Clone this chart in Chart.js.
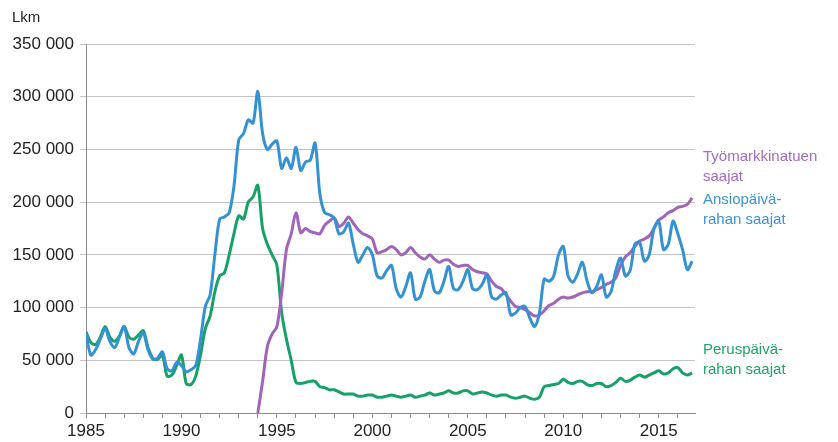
<!DOCTYPE html>
<html>
<head>
<meta charset="utf-8">
<style>
  html, body { margin: 0; padding: 0; background: #fff; }
</style>
<script src="https://cdn.jsdelivr.net/npm/chart.js@4.4.0/dist/chart.umd.min.js"></script>
</head>
<body>
<canvas id="myChart" width="838" height="442"></canvas>
<script>
// quarterly readings (thousands), one row per year 1985..2016
var ansio = [
  76, 55, 60, 70,   80, 68, 62, 72,   82, 62, 56, 68,   76, 60, 51, 52,
  58, 42, 40, 48,   45, 39, 41, 45,   70, 101, 112, 150, 184, 186, 190, 215,
  259, 265, 278, 275, 305, 265, 250, 255, 258, 232, 242, 232, 252, 230, 238, 240,
  256, 208, 190, 188, 185, 170, 172, 180, 160, 143, 150, 157, 150, 130, 128, 135,
  140, 118, 110, 120, 133, 108, 110, 125, 136, 116, 114, 125, 139, 118, 117, 125,
  136, 118, 117, 122, 131, 110, 108, 112, 114, 93, 95, 100, 101, 90, 82, 95,
  127, 125, 130, 150, 158, 130, 124, 132, 143, 125, 114, 120, 131, 110, 115, 135,
  147, 130, 135, 160, 162, 144, 150, 175, 182, 155, 160, 182, 170, 155, 136, 144
];
var perus = [
  77, 67, 65, 72,   82, 72, 68, 73,   82, 72, 70, 74,   78, 62, 52, 51,
  55, 35, 36, 45,   55, 28, 27, 35,   55, 80, 92, 115,  130, 133, 150, 170,
  187, 184, 200, 205, 216, 175, 160, 150, 140, 95, 70, 50, 29, 28, 29, 30,
  30, 25, 24, 22,   22, 20, 18, 18,   18, 16, 16, 17,   17, 15, 15, 16,
  17, 16, 15, 16,   17, 15, 16, 17,   19, 17, 18, 19,   21, 19, 19, 21,
  21, 18, 19, 20,   19, 17, 16, 17,   17, 15, 14, 15,   16, 14, 13, 15,
  25, 26, 27, 28,   32, 29, 28, 30,   30, 27, 26, 28,   28, 25, 26, 29,
  33, 30, 31, 34,   36, 34, 36, 38,   40, 37, 38, 42,   43, 38, 36, 38
];
// työmarkkinatuki starts in 1994
var tyomStartYear = 1994;
var tyom = [
  0, 30, 63, 75,     82, 114, 155, 170, 190, 171, 175, 172, 171, 170, 178, 182,
  185, 177, 180, 186, 180, 174, 170, 168, 165, 152, 153, 155, 158, 155, 150, 152,
  157, 152, 148, 146, 150, 146, 143, 145, 145, 141, 139, 140, 140, 136, 134, 133,
  132, 125, 120, 118, 112, 106, 101, 100, 98, 95, 92, 93,   97, 102, 104, 108,
  110, 109, 110, 112, 114, 115, 115, 117, 119, 122, 124, 128, 140, 148, 152, 158,
  163, 165, 168, 175, 183, 186, 190, 192, 195, 196, 198, 204
];
var firstYear = 1985;
var yTicks = [0, 50000, 100000, 150000, 200000, 250000, 300000, 350000];
var sideLabels = [
  { lines: ['Työmarkkinatuen', 'saajat'], color: '#a36cbf', at: 243000 },
  { lines: ['Ansiopäivä-', 'rahan saajat'], color: '#3b93d3', at: 202000 },
  { lines: ['Peruspäivä-', 'rahan saajat'], color: '#1fa468', at: 60000 }
];

function toPoints(vals, startYear) {
  return vals.map(function (v, i) {
    return { x: startYear + i / 4, y: v * 1000 };
  });
}
function fmt(v) {
  return String(v).replace(/\B(?=(\d{3})+(?!\d))/g, ' ');
}

var labelPlugin = {
  id: 'sideLabels',
  afterDraw: function (chart) {
    var c = chart.ctx, y = chart.scales.y, area = chart.chartArea;
    c.save();
    c.font = '15px "Liberation Sans", Arial, sans-serif';
    c.textBaseline = 'middle';
    c.textAlign = 'left';
    sideLabels.forEach(function (l) {
      var py = y.getPixelForValue(l.at);
      c.fillStyle = l.color;
      l.lines.forEach(function (t, k) {
        c.fillText(t, area.right + 8, py + k * 20);
      });
    });
    c.fillStyle = '#222';
    c.fillText('Lkm', 12, 18);
    c.restore();
  }
};

var ctx = document.getElementById('myChart').getContext('2d');
var chart = new Chart(ctx, {
  type: 'line',
  data: {
    datasets: [{
      label: 'Ansiopäivärahan saajat',
      data: toPoints(ansio, firstYear),
      borderColor: '#3592d2',
      order: 0
    }, {
      label: 'Työmarkkinatuen saajat',
      data: toPoints(tyom, tyomStartYear),
      borderColor: '#a064b8',
      order: 1
    }, {
      label: 'Peruspäivärahan saajat',
      data: toPoints(perus, firstYear),
      borderColor: '#17a06a',
      order: 2
    }]
  },
  options: {
    responsive: false,
    animation: false,
    devicePixelRatio: 1,
    layout: { padding: { left: 0, right: 143, top: 44, bottom: 0 } },
    elements: {
      line: { borderWidth: 3, tension: 0.3 },
      point: { radius: 0 }
    },
    plugins: { legend: { display: false }, tooltip: { enabled: false } },
    scales: {
      x: {
        type: 'linear',
        min: 1985,
        max: 2016.9,
        afterFit: function (s) { s.height = 29; },
        border: { color: '#8c8c8c' },
        grid: { drawOnChartArea: false, tickLength: 5, color: '#8c8c8c' },
        ticks: {
          stepSize: 1,
          includeBounds: false,
          autoSkip: false,
          maxRotation: 0,
          padding: 3,
          color: '#222',
          font: { size: 17, family: '"Liberation Sans", Arial, sans-serif' },
          callback: function (v) { return v % 5 === 0 ? String(v) : ''; }
        }
      },
      y: {
        min: yTicks[0],
        max: yTicks[yTicks.length - 1],
        afterFit: function (s) { s.width = 86; },
        afterBuildTicks: function (s) { s.ticks = yTicks.map(function (v) { return { value: v }; }); },
        border: { color: '#8c8c8c' },
        grid: { color: '#c4c4c4', tickLength: 6 },
        ticks: {
          padding: 6,
          color: '#222',
          font: { size: 17, family: '"Liberation Sans", Arial, sans-serif' },
          callback: function (v) { return fmt(v); }
        }
      }
    }
  },
  plugins: [labelPlugin]
});
</script>
</body>
</html>
